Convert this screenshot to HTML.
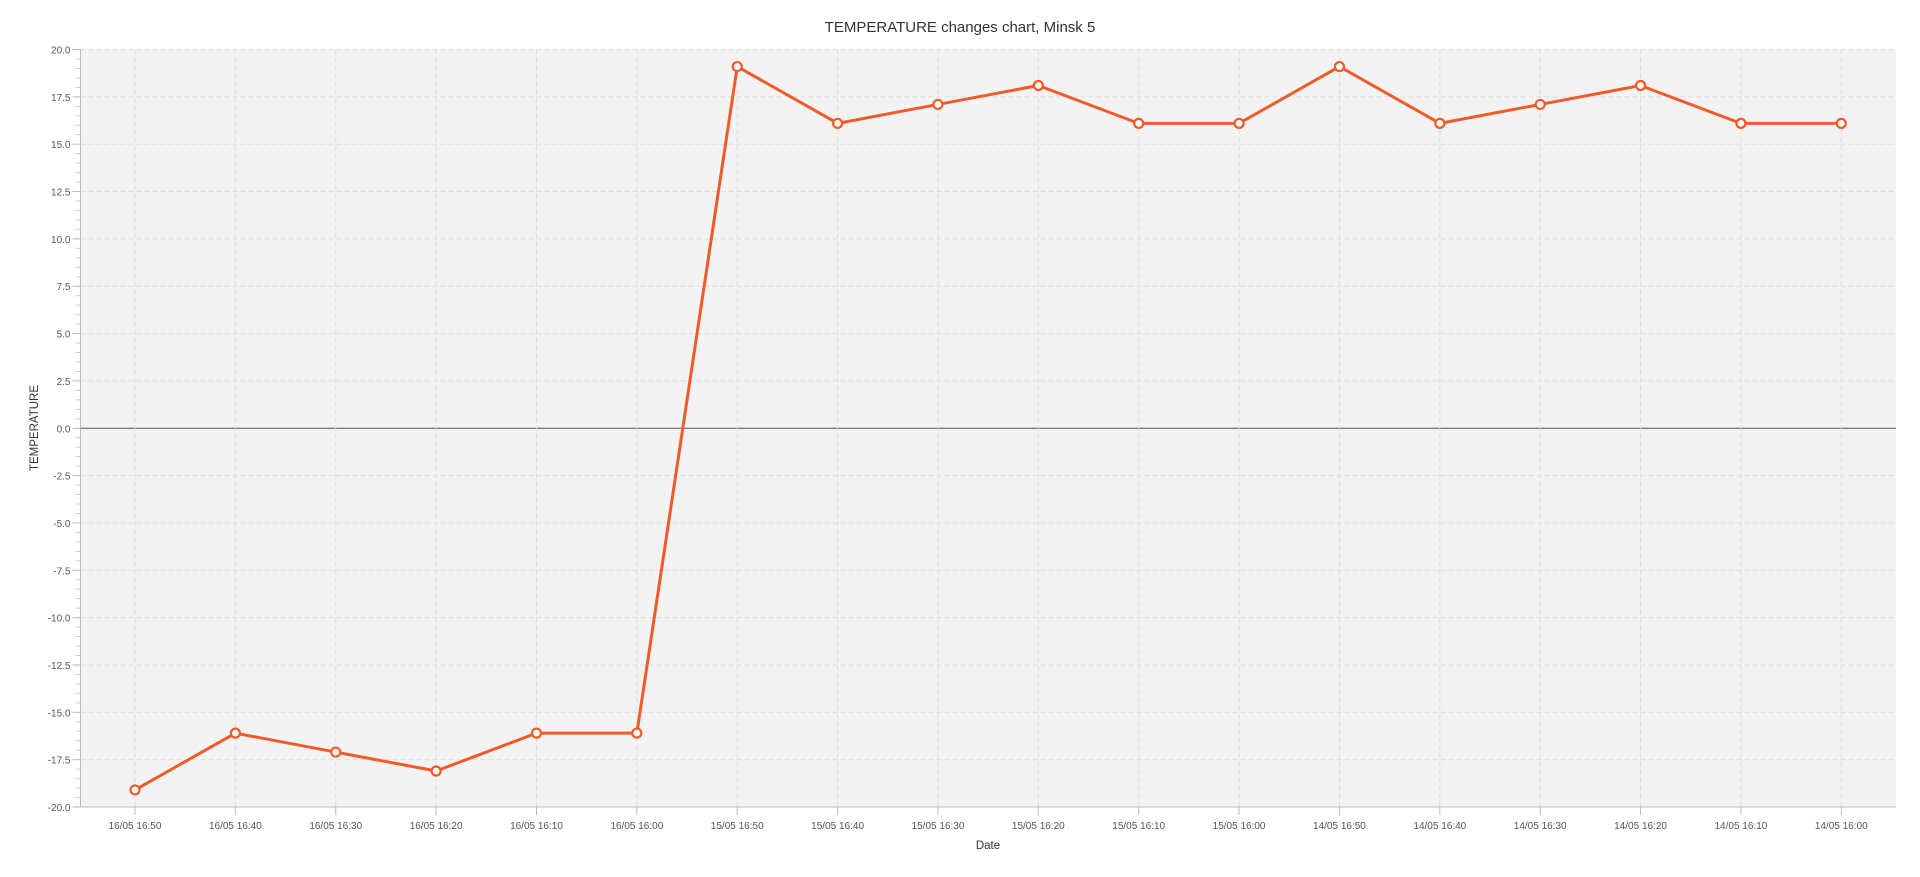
<!DOCTYPE html>
<html><head><meta charset="utf-8"><style>
html,body{margin:0;padding:0;background:#fff;}
svg{display:block;font-family:"Liberation Sans",sans-serif;}
</style></head><body>
<svg id="chart" width="1920" height="877">
<rect x="80.5" y="49.5" width="1815.5" height="757.5" fill="#f3f3f3"/>
<g id="grid"></g><g id="axes"></g><g id="series"></g>
<text x="960" y="32" text-anchor="middle" font-size="15" fill="#333">TEMPERATURE changes chart, Minsk 5</text>
<text x="988" y="849" text-anchor="middle" font-size="11.5" fill="#333">Date</text>
<text transform="translate(38,428) rotate(-90)" text-anchor="middle" font-size="11.5" fill="#333">TEMPERATURE</text>
</svg>
<script>
const categories=["16/05 16:50","16/05 16:40","16/05 16:30","16/05 16:20","16/05 16:10","16/05 16:00","15/05 16:50","15/05 16:40","15/05 16:30","15/05 16:20","15/05 16:10","15/05 16:00","14/05 16:50","14/05 16:40","14/05 16:30","14/05 16:20","14/05 16:10","14/05 16:00"];
const temps=[-19.1,-16.1,-17.1,-18.1,-16.1,-16.1,19.1,16.1,17.1,18.1,16.1,16.1,19.1,16.1,17.1,18.1,16.1,16.1];
const yTicks=[20,17.5,15,12.5,10,7.5,5,2.5,0,-2.5,-5,-7.5,-10,-12.5,-15,-17.5,-20];
const NS='http://www.w3.org/2000/svg';
const L=80.5,R=1896,T=49.5,B=807,yMin=-20,yMax=20;
function y(v){return B-(v-yMin)/(yMax-yMin)*(B-T);}
function x(i){return L+54.5+i*(1841.3-135)/(categories.length-1);}
function mk(tag,attrs,parent){const e=document.createElementNS(NS,tag);for(const k in attrs)e.setAttribute(k,attrs[k]);parent.appendChild(e);return e;}
const grid=document.getElementById('grid'),axes=document.getElementById('axes'),series=document.getElementById('series');
yTicks.forEach(v=>{
 const g=mk('line',{x1:L,x2:R,y1:y(v),y2:y(v),stroke:v===0?'#555':'#dedede','stroke-dasharray':v===0?'':'5,3','stroke-width':1},grid);
 
 
 mk('line',{x1:L-8,x2:L,y1:y(v),y2:y(v),stroke:'#bbb'},axes);
 const t=mk('text',{x:L-10,y:y(v)+4,'text-anchor':'end','font-size':10,fill:'#555'},axes);
 t.textContent=v.toFixed(1);
 
 
});
for(let v=yMin;v<yMax;v+=0.5){if(Math.abs(v/2.5-Math.round(v/2.5))<1e-6)continue;mk('line',{x1:L-5,x2:L,y1:y(v),y2:y(v),stroke:'#ccc'},axes);}
categories.forEach((c,i)=>{
 const g=mk('line',{x1:x(i),x2:x(i),y1:T,y2:B,stroke:'#dedede','stroke-dasharray':'5,3'},grid);
 
 
 mk('line',{x1:x(i),x2:x(i),y1:B,y2:B+8,stroke:'#bbb'},axes);
 const t=mk('text',{x:x(i),y:B+22,'text-anchor':'middle','font-size':10,fill:'#555'},axes);
 t.textContent=c;
 
 
});
const ax1=mk('line',{x1:L,x2:L,y1:T,y2:B,stroke:'#bbb'},axes);


const ax2=mk('line',{x1:L,x2:R,y1:B,y2:B,stroke:'#bbb'},axes);


const pl=mk('polyline',{points:temps.map((v,i)=>x(i)+','+y(v)).join(' '),fill:'none',stroke:'#f25a29','stroke-width':3,'stroke-linejoin':'round'},series);


temps.forEach((v,i)=>{
 const c=mk('circle',{cx:x(i),cy:y(v),r:4.5,fill:'#fff',stroke:'#f25a29','stroke-width':2.2},series);
 
 
});
</script>
</body></html>
